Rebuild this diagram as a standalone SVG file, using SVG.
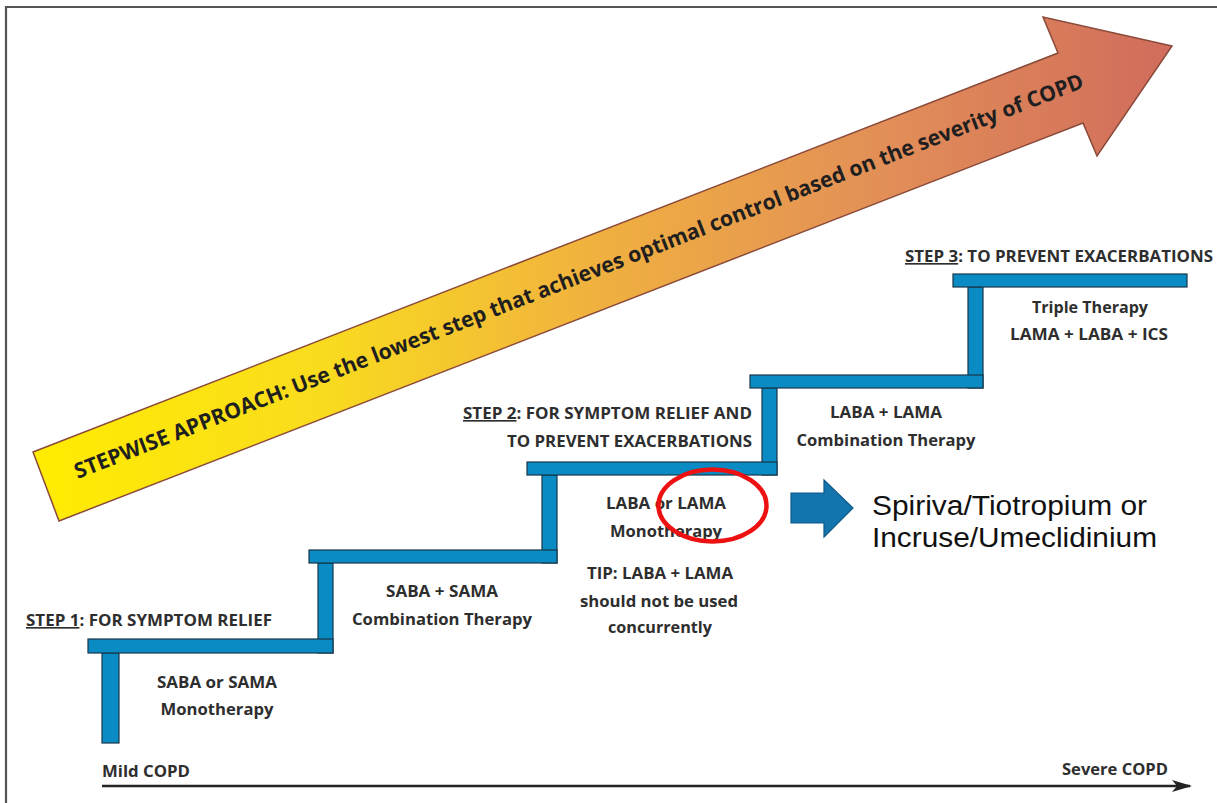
<svg xmlns="http://www.w3.org/2000/svg" width="1217" height="803" viewBox="0 0 1217 803">
<defs>
<linearGradient id="grad" gradientUnits="userSpaceOnUse" x1="33" y1="0" x2="1172" y2="0">
<stop offset="0" stop-color="#FFEC00"/>
<stop offset="0.25" stop-color="#F9DC1E"/>
<stop offset="0.5" stop-color="#F0B040"/>
<stop offset="0.75" stop-color="#E28E58"/>
<stop offset="1" stop-color="#D06C5C"/>
</linearGradient>
<marker id="axisHead" viewBox="0 0 20 12" refX="18" refY="6" markerWidth="20" markerHeight="12" markerUnits="userSpaceOnUse" orient="auto">
<path d="M0,0 L20,6 L0,12 L5,6 Z" fill="#222"/>
</marker>
<style>
.bar{fill:#0B8BC3;stroke:#17384a;stroke-width:1.2}
.lbl{font-family:"Open Sans","Liberation Sans",sans-serif;font-weight:700;font-size:16.5px;fill:#2e2e2e}
.mid{text-anchor:middle}
.end{text-anchor:end}
.u{text-decoration:underline}
.big{font-family:"Open Sans","Liberation Sans",sans-serif;font-weight:700;font-size:21.5px;fill:#1f1f1f;text-anchor:middle}
.note{font-family:"Liberation Sans","Noto Sans",sans-serif;font-size:27px;fill:#111}
</style>
</defs>
<rect width="1217" height="803" fill="#ffffff"/>
<g id="frame" fill="none" stroke="#555" stroke-width="2.2">
<path d="M6,803 L6,7 L1217,7"/>
</g>
<g id="approach-arrow">
<path d="M33,452 L1058,53 L1043,17 L1172,46 L1097,156 L1083,123 L59,521 Z" fill="url(#grad)" stroke="#8a4a3a" stroke-width="1.5"/>
<text class="big" transform="translate(581.5,283) rotate(-21.26)" textLength="1081" lengthAdjust="spacingAndGlyphs">STEPWISE APPROACH: Use the lowest step that achieves optimal control based on the severity of COPD</text>
</g>
<g id="stairs">
<rect class="bar" x="102" y="653" width="17" height="90"/>
<rect class="bar" x="318" y="563" width="15" height="90"/>
<rect class="bar" x="88" y="639" width="245" height="14"/>
<rect class="bar" x="542" y="475" width="15" height="88"/>
<rect class="bar" x="309" y="550" width="248" height="13"/>
<rect class="bar" x="762" y="388" width="15" height="87"/>
<rect class="bar" x="527" y="462" width="250" height="13"/>
<rect class="bar" x="968" y="287" width="15" height="101"/>
<rect class="bar" x="750" y="375" width="233" height="13"/>
<rect class="bar" x="953" y="274" width="234" height="13"/>
</g>
<g id="step1">
<text class="lbl" x="26" y="626" textLength="246" lengthAdjust="spacingAndGlyphs"><tspan class="u">STEP 1</tspan>: FOR SYMPTOM RELIEF</text>
<text class="lbl mid" x="217" y="688" textLength="120" lengthAdjust="spacingAndGlyphs">SABA or SAMA</text>
<text class="lbl mid" x="217" y="715" textLength="113" lengthAdjust="spacingAndGlyphs">Monotherapy</text>
</g>
<g id="step1b">
<text class="lbl mid" x="442" y="597" textLength="112" lengthAdjust="spacingAndGlyphs">SABA + SAMA</text>
<text class="lbl mid" x="442" y="625" textLength="180" lengthAdjust="spacingAndGlyphs">Combination Therapy</text>
</g>
<g id="step2">
<text class="lbl" x="463" y="419" textLength="289" lengthAdjust="spacingAndGlyphs"><tspan class="u">STEP 2</tspan>: FOR SYMPTOM RELIEF AND</text>
<text class="lbl end" x="752" y="447" textLength="245" lengthAdjust="spacingAndGlyphs">TO PREVENT EXACERBATIONS</text>
<text class="lbl mid" x="666" y="509" textLength="120" lengthAdjust="spacingAndGlyphs">LABA or LAMA</text>
<text class="lbl mid" x="666" y="537" textLength="112" lengthAdjust="spacingAndGlyphs">Monotherapy</text>
<text class="lbl mid" x="660" y="579" textLength="146" lengthAdjust="spacingAndGlyphs">TIP: LABA + LAMA</text>
<text class="lbl mid" x="659" y="607" textLength="158" lengthAdjust="spacingAndGlyphs">should not be used</text>
<text class="lbl mid" x="660" y="633" textLength="104" lengthAdjust="spacingAndGlyphs">concurrently</text>
</g>
<g id="step2b">
<text class="lbl mid" x="886" y="418" textLength="112" lengthAdjust="spacingAndGlyphs">LABA + LAMA</text>
<text class="lbl mid" x="886" y="446" textLength="179" lengthAdjust="spacingAndGlyphs">Combination Therapy</text>
</g>
<g id="step3">
<text class="lbl" x="905" y="262" textLength="308" lengthAdjust="spacingAndGlyphs"><tspan class="u">STEP 3</tspan>: TO PREVENT EXACERBATIONS</text>
<text class="lbl mid" x="1090" y="313" textLength="116" lengthAdjust="spacingAndGlyphs">Triple Therapy</text>
<text class="lbl mid" x="1089" y="340" textLength="158" lengthAdjust="spacingAndGlyphs">LAMA + LABA + ICS</text>
</g>
<g id="highlight">
<ellipse cx="712.5" cy="505.5" rx="54" ry="36" fill="none" stroke="#EE1111" stroke-width="4.5"/>
</g>
<g id="note">
<text class="note" x="872" y="515" textLength="275" lengthAdjust="spacingAndGlyphs">Spiriva/Tiotropium or</text>
<text class="note" x="872" y="547" textLength="285" lengthAdjust="spacingAndGlyphs">Incruse/Umeclidinium</text>
</g>
<g id="axis-labels">
<text class="lbl" x="102" y="777" textLength="88" lengthAdjust="spacingAndGlyphs">Mild COPD</text>
<text class="lbl" x="1062" y="775" textLength="106" lengthAdjust="spacingAndGlyphs">Severe COPD</text>
</g>
<g id="connectors">
<line x1="102" y1="786" x2="1190" y2="786" stroke="#222" stroke-width="2.5" marker-end="url(#axisHead)"/>
<path d="M791,493 L824,493 L824,480 L853,508 L824,537 L824,523 L791,523 Z" fill="#1474AE" stroke="#0e5a88" stroke-width="1.2"/>
</g>
</svg>
